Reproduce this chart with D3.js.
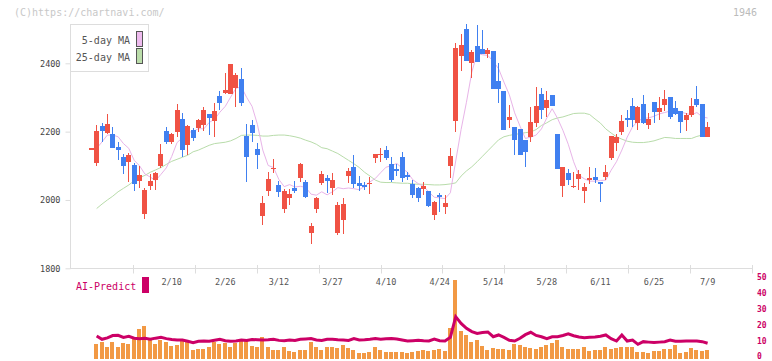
<!DOCTYPE html>
<html>
<head>
<meta charset="utf-8">
<script src="https://d3js.org/d3.v7.min.js"></script>
<style>
body { margin: 0; background: #fff; }
text { font-family: "DejaVu Sans Mono", monospace; }
</style>
</head>
<body>
<svg width="772" height="361"></svg>
<script>
// daily candles, 116 trading days (index 0 is a no-trade day)
const opens = [2152,2109,2216,2197,2194,2155,2126,2112,2102,2056,1960,2040,2059,2100,2202,2171,2200,2237,2161,2205,
  2212,2219,2252,2232,2304,2314,2311,2329,2354,2187,2219,2149,1953,2026,2092,2044,1974,2007,2034,2065,
  2053,1904,1974,2051,2063,2034,1904,1942,2071,2097,2051,2044,2049,2124,2133,2146,2105,2091,2125,2072,
  2047,2036,2032,2026,1957,2014,1980,2100,2232,2422,2500,2402,2451,2442,2427,2435,2348,2320,2235,2214,
  2208,2175,2185,2226,2310,2270,2307,2193,2042,2080,2039,2061,2027,2062,2067,2053,2067,2123,2168,2200,
  2239,2275,2226,2281,2220,2287,2257,2278,2301,2269,2260,2234,2249,2296,2281,2184];
const highs = [2152,2219,2226,2252,2214,2169,2134,2137,2109,2099,2036,2076,2083,2165,2214,2195,2281,2255,2218,2212,
  2236,2273,2252,2285,2319,2371,2398,2371,2385,2222,2234,2167,2012,2082,2120,2056,2031,2031,2056,2107,
  2058,1933,2009,2085,2073,2080,1995,2005,2093,2132,2070,2053,2067,2135,2151,2159,2127,2105,2141,2083,
  2058,2039,2052,2026,1997,2020,2015,2152,2459,2486,2515,2439,2512,2497,2444,2435,2402,2320,2278,2214,
  2208,2175,2271,2330,2327,2319,2307,2193,2097,2092,2083,2088,2049,2096,2094,2053,2101,2187,2193,2249,
  2263,2298,2275,2307,2255,2287,2300,2322,2301,2290,2260,2254,2298,2334,2281,2229];
const lows = [2152,2100,2169,2192,2151,2118,2075,2053,2027,2034,1944,2029,2029,2094,2163,2165,2185,2127,2132,2173,
  2198,2202,2190,2184,2263,2310,2309,2271,2276,2053,2169,2091,1927,2012,2079,2009,1963,1986,2019,2053,
  2007,1872,1963,2044,2021,2015,1897,1900,2049,2034,2026,2029,2018,2109,2112,2116,2052,2071,2053,2058,
  2007,1995,2015,1979,1941,1966,1959,2065,2200,2377,2408,2356,2405,2427,2415,2326,2285,2206,2212,2132,
  2132,2097,2171,2214,2237,2244,2274,2091,2010,2044,2034,2029,1992,2047,2050,1995,2058,2117,2143,2190,
  2214,2214,2205,2221,2208,2226,2234,2261,2237,2249,2197,2202,2244,2271,2184,2184];
const closes = [2152,2202,2202,2222,2153,2147,2100,2132,2046,2073,2030,2056,2080,2135,2169,2193,2264,2147,2216,2182,
  2234,2263,2240,2261,2285,2323,2398,2366,2285,2127,2196,2132,1991,2061,2094,2024,2027,2018,2026,2105,
  2010,1924,2007,2076,2056,2058,1985,1988,2086,2047,2042,2039,2051,2135,2135,2124,2058,2085,2065,2070,
  2015,2005,2042,1983,1994,2008,1992,2129,2445,2454,2408,2433,2405,2427,2440,2326,2324,2206,2244,2176,
  2132,2140,2228,2275,2264,2293,2274,2091,2097,2058,2041,2076,2039,2064,2058,2047,2082,2187,2184,2231,
  2234,2234,2272,2224,2236,2257,2269,2296,2243,2251,2228,2248,2275,2278,2184,2214];
const ma5 = [null,2151,2170,2190,2190,2185,2165,2151,2116,2100,2076,2067,2057,2075,2094,2127,2168,2182,2198,2200,
  2209,2208,2227,2236,2257,2274,2301,2327,2331,2300,2274,2221,2146,2101,2095,2060,2039,2045,2038,2040,
  2037,2017,2014,2024,2015,2024,2036,2033,2035,2033,2030,2040,2053,2063,2080,2096,2100,2107,2093,2081,
  2059,2048,2040,2023,2008,2006,2004,2021,2114,2206,2286,2374,2429,2425,2423,2406,2384,2345,2308,2255,
  2216,2180,2184,2190,2208,2240,2267,2239,2204,2163,2112,2072,2062,2055,2055,2057,2058,2087,2112,2146,
  2184,2214,2231,2239,2240,2245,2252,2256,2260,2263,2257,2253,2249,2256,2243,2240];
const ma25 = [null,1975,1988,2000,2011,2024,2034,2044,2056,2065,2072,2081,2088,2095,2104,2113,2119,2125,2131,2141,
  2146,2153,2160,2165,2167,2169,2173,2180,2189,2190,2190,2189,2187,2187,2189,2190,2190,2188,2185,2181,
  2175,2170,2163,2153,2150,2143,2136,2126,2116,2106,2095,2081,2070,2058,2052,2051,2051,2050,2049,2049,
  2047,2046,2046,2045,2044,2044,2045,2047,2050,2070,2085,2097,2112,2128,2144,2160,2176,2185,2189,2192,
  2194,2197,2199,2206,2218,2226,2235,2240,2243,2248,2253,2254,2254,2250,2237,2225,2208,2196,2185,2178,
  2172,2169,2168,2168,2170,2173,2178,2183,2182,2180,2180,2180,2180,2186,2190,2192];
const volume = [null,9.1,10.4,7.2,10.4,7.2,9.7,9.1,12.1,18.6,20.4,11.6,9.1,11.6,10.4,7.9,8.5,11.0,10.4,5.3,
  6.0,6.0,7.2,10.4,9.1,9.7,7.2,9.7,11.6,11.6,7.9,7.2,13.5,7.2,5.3,5.3,7.2,4.7,4.1,5.3,
  5.3,10.4,7.2,5.3,7.2,7.2,6.6,8.5,6.6,5.3,3.5,3.5,4.1,7.2,5.3,4.4,4.4,4.1,4.1,3.5,
  4.1,4.7,5.3,4.7,5.3,6.0,4.7,19.2,49.5,17.3,14.8,10.4,11.6,7.9,5.3,6.6,6.0,6.0,5.3,9.1,
  8.5,7.2,6.6,6.0,7.2,8.5,9.7,11.6,7.2,6.0,6.0,6.0,7.2,4.7,5.3,5.3,7.2,6.0,6.6,7.2,
  7.2,7.2,4.1,4.1,3.5,4.7,4.7,6.0,6.0,8.5,3.5,4.1,6.6,5.3,4.7,5.3];
const aiPredict = [null,14.2,12.1,13.0,14.4,14.6,13.3,14.0,12.8,12.5,12.7,12.1,12.8,13.3,12.5,12.0,11.6,11.6,10.8,9.9,
  10.8,11.0,10.8,11.5,12.1,11.2,10.8,11.0,11.6,11.4,12.0,11.8,11.6,11.8,12.1,11.4,11.2,11.6,11.4,12.1,
  12.3,12.5,11.6,11.4,12.1,12.1,11.8,11.6,11.4,12.5,11.6,11.8,12.1,12.5,12.1,12.4,12.5,12.2,11.6,11.0,
  11.2,11.4,11.1,11.0,12.2,11.2,11.0,13.3,26.3,22.1,19.0,16.9,15.8,16.3,16.7,13.7,14.8,13.3,11.5,11.0,
  12.7,15.0,16.5,14.5,13.7,12.5,13.7,13.7,14.5,15.5,14.3,13.5,13.1,13.3,13.5,14.0,14.8,12.5,11.0,14.8,
  11.0,11.6,8.9,10.6,10.3,10.0,10.3,10.6,11.6,10.8,10.8,11.0,11.0,11.0,10.6,9.6];
const tickLabels = ["2/10","2/26","3/12","3/27","4/10","4/24","5/14","5/28","6/11","6/25","7/9"];
const tickIndex = [15,25,35,45,55,65,75,85,95,105,115];
const priceTicks = [1800,2000,2200,2400];
const predictTicks = [0,10,20,30,40,50];

const svg = d3.select("svg");
const n = closes.length;
const x = d3.scaleLinear().domain([0, n - 1]).range([91.3, 707.6]);
const y = d3.scaleLinear().domain([1800, 2400]).range([268.3, 63.3]);
const y2 = d3.scaleLinear().domain([0, 50]).range([358.5, 279]);
const grid = d3.scaleLinear().domain([0, 11]).range([70.7, 752.3]);
const UP = '#f05244', DOWN = '#4080f0';

// header
svg.append('text').attr('x', 14).attr('y', 16).attr('font-size', 10)
   .attr('fill', '#c8c8c8').text('(C)https://chartnavi.com/');
svg.append('text').attr('x', 757).attr('y', 16).attr('font-size', 10)
   .attr('text-anchor', 'end').attr('fill', '#bbb').text('1946');

// axes
svg.append('line').attr('x1', 70.5).attr('x2', 70.5).attr('y1', 24).attr('y2', 268.5)
   .attr('stroke', '#ddd');
svg.append('line').attr('x1', 70).attr('x2', 752.5).attr('y1', 268.5).attr('y2', 268.5)
   .attr('stroke', '#ddd');
svg.append('g').selectAll('line').data(d3.range(1, 12)).join('line')
   .attr('x1', d => Math.round(grid(d)) + 0.5).attr('x2', d => Math.round(grid(d)) + 0.5)
   .attr('y1', 265).attr('y2', 273.5).attr('stroke', '#ddd');

const yAxis = svg.append('g').attr('transform', 'translate(70.5,0)')
   .call(d3.axisLeft(y).tickValues(priceTicks).tickSize(5).tickPadding(5).tickFormat(d3.format('d')));
yAxis.select('.domain').remove();
yAxis.selectAll('line').attr('stroke', '#ddd');
yAxis.selectAll('text').attr('font-size', 8.5).attr('fill', '#444')
   .attr('font-family', '"DejaVu Sans Mono", monospace');

svg.append('g').selectAll('text').data(tickIndex).join('text')
   .attr('x', d => x(d)).attr('y', 285).attr('text-anchor', 'middle')
   .attr('font-size', 8.5).attr('fill', '#555')
   .text((d, i) => tickLabels[i]);

// moving averages
const idx = d3.range(n);
const maLine = arr => d3.line().defined(i => arr[i] != null).x(i => x(i)).y(i => y(arr[i]));
svg.append('path').datum(idx).attr('fill', 'none').attr('stroke', '#b8dcaa').attr('stroke-width', 1)
   .attr('d', maLine(ma25));
svg.append('path').datum(idx).attr('fill', 'none').attr('stroke', '#e8b4e8').attr('stroke-width', 1)
   .attr('d', maLine(ma5));

// candles
const col = i => closes[i] >= opens[i] ? UP : DOWN;
const cg = svg.append('g').attr('shape-rendering', 'crispEdges');
cg.selectAll('.wick').data(idx).join('rect').attr('class', 'wick')
   .attr('x', i => Math.floor(x(i))).attr('width', 1)
   .attr('y', i => y(highs[i])).attr('height', i => Math.max(1, y(lows[i]) - y(highs[i])))
   .attr('fill', col);
cg.selectAll('.body').data(idx).join('rect').attr('class', 'body')
   .attr('x', i => Math.floor(x(i)) - 2).attr('width', 5)
   .attr('y', i => y(Math.max(opens[i], closes[i])))
   .attr('height', i => Math.max(1.5, Math.abs(y(opens[i]) - y(closes[i]))))
   .attr('fill', col);

// legend
const lg = svg.append('g');
lg.append('rect').attr('x', 70.5).attr('y', 24.5).attr('width', 78).attr('height', 47)
  .attr('fill', '#fff').attr('stroke', '#ddd');
[['5-day MA', '#eebbee', 44], ['25-day MA', '#bbddaa', 61]].forEach(([label, c, yy]) => {
  lg.append('text').attr('x', 130).attr('y', yy).attr('text-anchor', 'end')
    .attr('font-size', 10).attr('fill', '#555').text(label);
  lg.append('rect').attr('x', 136.5).attr('y', yy - 12.5).attr('width', 6).attr('height', 15)
    .attr('fill', c).attr('stroke', '#555');
});

// lower panel: volume bars + AI-Predict
svg.append('g').attr('shape-rendering', 'crispEdges').selectAll('rect')
   .data(idx.filter(i => volume[i] != null)).join('rect')
   .attr('x', i => Math.round(x(i) - 2.5)).attr('width', 4)
   .attr('y', i => y2(volume[i])).attr('height', i => y2(0) - y2(volume[i]))
   .attr('fill', '#f29944');
svg.append('path').datum(idx).attr('fill', 'none').attr('stroke', '#cc0066').attr('stroke-width', 3)
   .attr('d', d3.line().defined(i => aiPredict[i] != null).x(i => x(i)).y(i => y2(aiPredict[i])));

const rAxis = svg.append('g').attr('transform', 'translate(756,0)')
   .call(d3.axisRight(y2).tickValues(predictTicks).tickSize(0).tickPadding(1));
rAxis.select('.domain').remove();
rAxis.selectAll('text').attr('font-size', 8).attr('dy', '0.05em')
   .attr('fill', '#cc0066').attr('font-weight', 'bold')
   .attr('font-family', '"DejaVu Sans Mono", monospace');

svg.append('text').attr('x', 76).attr('y', 290).attr('font-size', 10)
   .attr('fill', '#cc0066').text('AI-Predict');
svg.append('rect').attr('x', 142).attr('y', 277).attr('width', 7).attr('height', 16)
   .attr('fill', '#cc0066');
</script>
</body>
</html>
